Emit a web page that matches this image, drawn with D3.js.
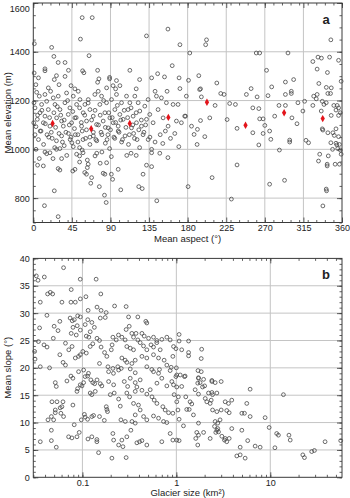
<!DOCTYPE html>
<html><head><meta charset="utf-8">
<script src="https://cdn.jsdelivr.net/npm/d3@7"></script>
<style>
html,body{margin:0;padding:0;background:#fff;}
svg{display:block;font-family:"Liberation Sans",Arial,sans-serif;}
</style></head>
<body>
<svg id="chart" width="350" height="498"></svg>
<script>
// ---------- DATA ----------
// Panel a: glacier mean aspect (deg) vs mean elevation (m)
const aspectElevation = [
 [1.2,1433],[21.4,1418],[57,1540],[68.7,1540],[55,1452],[65,1384],[24,1381],[132,1465],[157,1493],[1,1313],[6,1293],[13.6,1330],[13.6,1322],[29,1356],[37,1356],[41,1324],[27,1302],[24.5,1286],[37,1299],[44,1261],[57.5,1322],[59,1314],[75,1324],[76.5,1289],[75,1275],[89,1295],[89,1289],[97,1282],[101,1261],[112.6,1324],[120,1248],[124,1286],[138,1293],[142,1238],[145,1310],[153,1297],[162,1343],[17.5,1252],[30,1265],[3,1265],[48.5,1248],[85.5,1252],[93,1261],[96,1248],[156,1238],
 [171,1429],[202,1449],[201,1429],[182.5,1395],[260,1395],[264,1395],[297,1395],[347,1449],[170,1293],[171,1249],[181,1283],[193,1302],[195,1248],[214,1272],[254,1249],[272,1324],[278,1256],[294,1276],[303.6,1286],[326,1360],[332,1378],[336,1374],[345.5,1378],[356,1365],[331,1329],[343,1315],[333,1270],[341.7,1254],[347.5,1252],[359,1279],
 [0.8,1191],[3.9,1234],[2,1170],[7,1218],[9.7,1184],[7.8,1150],[4.7,1123],[0.5,1109],[3.1,1093],[13.6,1225],[15.6,1197],[17.5,1163],[13.6,1136],[11.7,1109],[19.4,1095],[20.2,1238],[23.3,1211],[25.3,1184],[29.1,1218],[31.1,1163],[27.2,1129],[33,1116],[35,1095],[36.9,1191],[38.8,1231],[40.8,1143],[42.7,1170],[44.7,1109],[46.6,1218],[48.5,1129],[50.5,1184],[52.4,1238],[54.4,1204],[56.3,1095],[58.2,1150],[60.2,1184],[62.1,1116],[64.1,1204],[66,1163],[69.9,1136],[71.8,1225],[73.8,1102],[75.7,1238],[77.6,1184],[79.6,1218],[81.5,1116],[83.5,1150],[85.4,1191],[87.3,1088],[89.3,1129],[91.2,1204],[93.2,1109],[95.1,1163],[97,1225],[99,1095],[100.9,1143],[102.9,1191],[104.8,1123],[108.7,1218],[110.6,1163],[112.6,1191],[114.5,1088],[116.4,1136],[118.4,1218],[120.3,1109],[122.3,1191],[124.2,1157],[126.1,1095],[130,1177],[132,1123],[133.9,1204],[135.8,1143],[139.7,1109],[143.6,1218],[145.5,1163],[149.4,1211],[151.4,1129],[155.2,1191],[157.2,1095],[163,1184],[166.9,1116],[168.8,1184],[172.7,1109],[176.6,1136],[178.5,1218],
 [5,1140],[8,1075],[10,1160],[14,1105],[16,1060],[19,1130],[22,1045],[24,1150],[26,1090],[28,1175],[30,1065],[32,1140],[34,1030],[36,1120],[38,1070],[40,1200],[42,1100],[44,1050],[46,1155],[48,1085],[50,1130],[52,1060],[54,1170],[56,1110],[58,1040],[60,1140],[62,1080],[64,1190],[66,1050],[68,1120],[70,1070],[72,1160],[74,1035],[76,1100],[78,1140],[80,1060],[82,1200],[84,1090],[86,1040],[88,1150],[90,1080],[92,1130],[94,1050],[96,1110],[98,1180],[100,1070],[102,1120],[104,1040],[106,1160],[108,1090],[110,1130],[112,1060],[114,1170],[116,1100],[118,1045],[120,1150],[123,1080],[126,1120],[128,1060],[131,1100],[134,1040],
 [2,1060],[6,1040],[9,1075],[12,1020],[18,1050],[21,1070],[27,1035],[33,1055],[36,1015],[41,1065],[43,1040],[49,1060],[52,1030],[57,1075],[61,1045],[66,1020],[70,1055],[73,1040],[79,1070],[84,1025],[87,1060],[95,1045],[99,1075],[103,1030],[107,1055],[111,1020],[117,1065],[121,1040],[129,1070],[136,1050],[142,1030],[148,1060],[154,1075],[160,1045],[165,1065],
 [3.1,1000],[7,962],[5,935],[11.7,932],[13.6,989],[15.6,982],[19.4,986],[25,1007],[27,1000],[31,1003],[33,962],[23,962],[29,921],[31,915],[39,975],[45,1027],[46.6,1011],[54,1007],[57,997],[50.5,980],[54,973],[46,911],[48.6,918],[54,948],[58,986],[63,956],[64,939],[63,925],[60,905],[62,898],[67,861],[68,884],[72,973],[74,984],[78,943],[81.5,902],[83.5,898],[80,989],[89,1003],[91,970],[85.5,945],[77,847],[83,812],[85,782],[91,898],[92.5,877],[99,918],[102,834],[109,975],[114,984],[120,975],[124,1007],[128,898],[132,935],[138,929],[123,847],[127,839],[138,1000],[138,986],[144,789],[147.5,984],[151,1024],[157,966],[24.5,830],[13,769],[29,724],
 [194,1245],[196,1215],[212,1180],[218.6,1229],[222.5,1225],[248.5,1225],[261,1215],[273.7,1220],[229,1188],[235.7,1184],[256,1170],[263,1167],[205.8,1129],[195,1118],[184.5,1095],[191.4,1082],[177.5,1136],[226,1122],[237.6,1086],[264,1125],[268,1125],[270,1098],[281.5,1136],[286.5,1180],[294,1180],[301.6,1129],[307.5,1105],[308.6,1191],[314.4,1157],[300.9,1229],[300.9,1238],[294,1225],[316.4,1197],[326,1180],[327,1218],[331,1225],[330,1207],[337,1197],[339,1184],[341.6,1191],[343.5,1229],[346.6,1229],[335.8,1157],[350.5,1180],[354.4,1180],[356,1170],[353,1161],[347.4,1139],[356,1139],[358,1150],[337,1084],[353,1084],[275.6,1075],
 [169.7,1011],[180.5,847],[187.5,1061],[191,1020],[200,1052],[208.5,884],[231,796],[237.6,936],[256,1068],[268,1065],[263,1018],[277,1041],[275.6,857],[287,997],[293,873],[299,1038],[299,1030],[318,1037],[321,1027],[332.6,952],[334,980],[337.7,1079],[343.5,1068],[347,1027],[344,973],[349,1000],[342.7,939],[342.7,932],[352,939],[354,1018],[355,1003],[358,997],[357,939],[351,1057],[356,1052],[341.6,837],[342,830],[337.7,768],[349.4,1068],[353,1025],[357,1020],[359,980]
];
// Panel a red markers: mean elevation per 45-degree aspect sector
const sectorAspect = [22.5, 67.5, 112.5, 157.5, 202.5, 247.5, 292.5, 337.5];
const sectorMeanElev = [1106, 1084, 1106, 1131, 1193, 1099, 1150, 1126];

// Panel b: glacier size (km2) vs mean slope (deg)
const sizeSlope = [
 [0.0323,36.8],[0.0337,36.0],[0.0393,36.6],[0.0356,32.0],[0.063,38.3],[0.0426,33.5],[0.0455,33.8],[0.0482,33.5],[0.0419,29.6],[0.0605,32.0],[0.0755,32.0],[0.084,32.0],[0.076,34.3],[0.0948,36.2],[0.140,36.2],[0.157,33.5],[0.109,33.0],[0.095,32.6],[0.115,30.5],[0.143,31.1],[0.158,30.5],[0.179,30.1],[0.22,31.3],[0.292,31.2],[0.31,29.3],[0.389,29.3],[0.473,28.5],[0.485,28.2],[0.155,29.1],[0.175,29.2],[0.089,29.5],[0.095,29.3],[0.082,28.8],[0.074,29.1],[0.078,28.6],[0.050,27.6],[0.0575,28.5],[0.055,26.8],[0.035,27.3],[0.034,24.8],[0.039,24.2],[0.042,23.8],[0.049,25.4],[0.031,23.0],[0.0313,21.6],[0.0356,20.2],[0.0447,20.0],[0.0575,22.4],[0.0622,21.0],[0.066,20.5],[0.066,24.5],[0.0716,23.3],[0.0776,23.9],[0.076,26.3],[0.086,26.0],[0.095,26.9],[0.0794,27.4],[0.088,27.7],[0.107,27.9],[0.114,28.8],[0.110,25.8],[0.117,25.6],[0.121,26.6],[0.126,28.3],[0.134,27.4],[0.143,25.4],[0.152,25.0],[0.158,23.8],[0.121,23.9],[0.129,24.4],[0.110,22.7],[0.095,22.4],[0.101,23.0],[0.084,21.8],[0.091,22.1],[0.172,22.8],[0.182,22.1],[0.152,20.8],[0.203,23.3],[0.211,25.6],[0.229,25.1],[0.207,24.2],[0.242,26.0],[0.263,25.6],[0.285,25.1],[0.292,27.0],[0.315,27.6],[0.336,26.3],[0.35,25.6],[0.372,26.3],[0.389,25.1],[0.43,26.3],[0.455,25.8],[0.506,25.4],[0.571,25.6],[0.619,25.0],[0.70,25.2],[0.792,25.6],[0.859,25.1],[0.537,24.2],[0.571,23.8],[0.619,24.6],[0.673,23.3],[0.412,24.6],[0.447,24.0],[0.485,23.3],[0.297,23.9],[0.323,23.6],[0.35,23.3],[0.263,21.8],[0.285,21.4],[0.297,21.0],[0.336,20.8],[0.365,21.4],[0.43,22.1],[0.485,21.8],[0.571,22.4],[0.646,21.8],[0.741,21.4],[0.238,20.2],[0.259,19.9],[0.187,20.2],[0.211,19.9],[0.485,20.2],[0.548,19.7],[0.661,19.7],[0.792,20.5],[0.881,20.1],[0.933,23.9],[0.918,22.1],
 [1.07,26.1],[1.07,24.9],[1.35,24.9],[0.99,23.5],[1.14,23.3],[1.35,22.8],[1.35,22.2],[1.86,23.4],[1.84,21.7],[1.0,20.0],[1.70,19.5],[1.01,18.7],[1.22,18.4],[1.72,18.2],[1.95,17.9],[2.39,17.7],
 [0.091,19.3],[0.103,19.6],[0.116,19.0],[0.19,19.3],[0.214,19.0],[0.243,19.6],[0.323,19.8],[0.365,19.1],[0.571,19.3],[0.646,19.0],[0.859,19.5],
 [0.0356,6.5],[0.0467,8.6],[0.0467,6.7],[0.0527,5.5],[0.0467,11.1],[0.0494,10.5],[0.043,10.5],[0.0474,13.8],[0.0536,13.8],[0.0621,13.8],[0.0514,12.3],[0.0514,11.8],[0.059,11.7],[0.063,11.1],[0.058,12.7],[0.0514,17.3],[0.0527,16.6],[0.0605,12.9],[0.0713,7.4],[0.0773,7.2],[0.0818,9.6],[0.0792,13.2],[0.0684,17.6],[0.0755,18.5],[0.0792,18.1],[0.0875,7.4],[0.0925,8.2],[0.0889,16.2],[0.0875,15.7],[0.0948,16.9],[0.103,17.3],[0.0989,16.7],[0.107,18.4],[0.1135,18.5],[0.0973,10.5],[0.107,11.0],[0.105,11.5],[0.1135,10.6],[0.121,15.4],[0.126,15.1],[0.137,15.7],[0.123,17.8],[0.129,17.3],[0.135,17.1],[0.143,17.8],[0.126,11.1],[0.1315,11.3],[0.1145,7.0],[0.126,7.4],[0.1425,6.9],[0.1425,6.5],[0.1486,4.5],[0.155,17.1],[0.161,16.7],[0.152,11.1],[0.171,10.4],[0.206,3.5],[0.1795,12.9],[0.182,12.4],[0.185,12.0],[0.19,17.5],[0.215,16.9],[0.198,15.1],[0.218,15.4],[0.243,14.3],[0.253,13.0],[0.257,10.5],[0.286,10.2],[0.211,8.0],[0.215,6.8],[0.243,5.9],[0.263,6.8],[0.27,5.6],[0.297,7.4],[0.328,8.6],[0.292,3.6],[0.279,17.5],[0.303,16.6],[0.323,18.1],[0.297,15.4],[0.318,14.7],[0.365,17.3],[0.38,16.5],[0.412,17.8],[0.365,15.7],[0.35,13.5],[0.395,13.2],[0.412,12.3],[0.365,11.4],[0.448,11.1],[0.485,10.5],[0.337,10.2],[0.365,9.9],[0.406,6.5],[0.43,6.7],[0.38,6.3],[0.485,5.9],[0.43,15.9],[0.485,15.2],[0.55,14.7],[0.527,16.0],[0.581,14.1],[0.621,13.5],[0.718,12.9],[0.76,12.3],[0.621,17.2],[0.70,18.1],[0.792,16.7],[0.895,17.5],[0.571,11.2],[0.646,10.8],[0.73,10.2],[0.792,10.0],[0.70,6.5],[0.859,8.0],[0.918,6.8],[0.826,11.8],[0.918,11.7],[0.933,16.9],[0.948,15.1],
 [0.989,18.4],[1.10,18.7],[1.24,18.5],[1.01,16.5],[1.14,16.6],[1.05,14.7],[1.01,13.8],[1.04,12.3],[1.07,10.6],[1.19,9.4],[1.01,6.8],[1.07,6.7],[1.26,14.7],[1.40,13.8],[1.46,13.4],[1.29,12.4],[1.37,12.4],[1.52,11.4],[1.585,16.0],[1.72,15.2],[1.72,18.1],[1.79,17.3],[1.90,16.5],[2.0,16.7],[1.69,17.2],[1.84,19.3],[1.72,9.9],[1.65,8.2],[1.72,7.7],[1.61,7.1],[1.69,5.9],[1.95,8.2],[2.29,7.1],[2.03,14.4],[2.11,13.8],[2.29,13.5],[2.35,14.1],[2.20,15.4],[2.39,15.5],[2.43,15.1],[2.70,15.4],[2.39,17.5],[2.59,17.3],[3.0,17.5],[2.43,12.3],[2.70,12.0],[3.0,12.3],[2.59,10.2],[2.76,9.9],[2.92,10.5],[2.55,9.3],[2.70,8.6],[2.81,8.3],[2.76,8.9],[2.63,8.2],[3.05,7.5],[3.31,7.1],[3.25,6.8],[3.44,6.5],[3.65,7.1],[3.31,13.8],[3.59,13.5],[3.89,14.1],[3.44,12.2],[3.65,11.8],[3.89,8.9],[4.40,3.9],[4.78,4.1],[5.40,3.5],[4.78,5.5],[4.98,8.6],[4.98,11.7],[5.31,11.7],[5.62,13.5],[5.75,6.7],[6.10,16.1],[6.10,11.1],[6.90,5.7],[7.80,5.5],[8.81,10.9],[9.73,9.1],[11.2,5.4],[11.7,8.0],[12.2,7.7],[13.8,15.1],[15.8,7.7],[16.3,6.8],[22.2,4.1],[23.1,3.6],[27.6,4.7],[29.5,4.9],[38.3,6.5],[56.2,6.7]
];

// Axes ticks
const aspectTicks = [0, 45, 90, 135, 180, 225, 270, 315, 360];
const elevTicks = [800, 1000, 1200, 1400, 1600];
const slopeTicks = [0, 5, 10, 15, 20, 25, 30, 35, 40];
const sizeTicks = [0.1, 1, 10];
const sizeTickLabels = ["0.1", "1", "10"];

// ---------- DRAW ----------
const svg = d3.select("#chart");
const L = 33.3, R = 342;
const inkCol = "#3a3a3a", gridCol = "#c4c4c4", ptCol = "#474747";

function drawPanel(o) {
  const g = svg.append("g");
  const x = o.x, y = o.y;
  const [top, bottom] = [y.range()[1], y.range()[0]];
  g.append("g").selectAll("line").data(o.xGrid).join("line")
    .attr("x1", d => x(d)).attr("x2", d => x(d)).attr("y1", top).attr("y2", bottom)
    .attr("stroke", gridCol).attr("stroke-width", 1);
  g.append("g").selectAll("line").data(o.yGrid).join("line")
    .attr("y1", d => y(d)).attr("y2", d => y(d)).attr("x1", L).attr("x2", R)
    .attr("stroke", gridCol).attr("stroke-width", 1);
  const mk = (axis, tr) => {
    const a = g.append("g").attr("transform", tr).call(axis);
    a.select(".domain").remove();
    a.selectAll("line").attr("stroke", inkCol).attr("stroke-width", 0.8);
    a.selectAll("text").attr("fill", "#222").attr("font-size", 9).attr("font-family", "Liberation Sans, Arial, sans-serif");
    return a;
  };
  mk(d3.axisBottom(x).tickValues(o.xMinor).tickSize(-2.5).tickFormat(""), `translate(0,${bottom})`);
  mk(d3.axisTop(x).tickValues(o.xMinor).tickSize(-2.5).tickFormat(""), `translate(0,${top})`);
  mk(d3.axisLeft(y).tickValues(o.yMinor).tickSize(-2.5).tickFormat(""), `translate(${L},0)`);
  mk(d3.axisRight(y).tickValues(o.yMinor).tickSize(-2.5).tickFormat(""), `translate(${R},0)`);
  mk(d3.axisBottom(x).tickValues(o.xMajor).tickSize(-5).tickPadding(2.2).tickFormat(o.xFmt), `translate(0,${bottom})`);
  mk(d3.axisTop(x).tickValues(o.xMajor).tickSize(-5).tickFormat(""), `translate(0,${top})`);
  const yl = mk(d3.axisLeft(y).tickValues(o.yMajor).tickSize(-5).tickPadding(3.5).tickFormat(o.yFmt), `translate(${L},0)`);
  if (o.nudgeTop) yl.selectAll("text").filter(d => d === o.nudgeTop).attr("dy", "0.95em");
  mk(d3.axisRight(y).tickValues(o.yMajor).tickSize(-5).tickFormat(""), `translate(${R},0)`);
  g.append("rect").attr("x", L).attr("y", top).attr("width", R - L).attr("height", bottom - top)
    .attr("fill", "none").attr("stroke", inkCol).attr("stroke-width", 1);
  g.append("g").selectAll("circle").data(o.data).join("circle")
    .attr("cx", d => x(d[0])).attr("cy", d => y(d[1])).attr("r", 1.9)
    .attr("fill", "none").attr("stroke", ptCol).attr("stroke-width", 0.8);
  g.append("text").attr("x", (L + R) / 2).attr("y", bottom + o.titleGap).attr("text-anchor", "middle")
    .attr("font-size", 9.5).attr("fill", "#222").text(o.xTitle);
  g.append("text").attr("transform", `translate(10.5,${(top + bottom) / 2}) rotate(-90)`)
    .attr("text-anchor", "middle").attr("font-size", 9.5).attr("fill", "#222").text(o.yTitle);
  g.append("text").attr("x", 326).attr("y", top + 21).attr("text-anchor", "middle")
    .attr("font-size", 13).attr("font-weight", 700).attr("fill", "#222").text(o.letter);
  return g;
}

// Panel a
const xA = d3.scaleLinear().domain([0, 360]).range([L, R]);
const yA = d3.scaleLinear().domain([700, 1600]).range([222.5, 3]);
const gA = drawPanel({
  x: xA, y: yA, data: aspectElevation,
  xGrid: aspectTicks.slice(1, -1), yGrid: elevTicks.slice(0, -1),
  xMajor: aspectTicks, xMinor: d3.range(0, 361, 10),
  yMajor: elevTicks, yMinor: d3.range(700, 1601, 50),
  xFmt: d => d, yFmt: d => d, nudgeTop: 1600, titleGap: 19.5,
  xTitle: "Mean aspect (°)", yTitle: "Mean elevation (m)", letter: "a"
});
gA.append("g").selectAll("path").data(sectorAspect).join("path")
  .attr("transform", (d, i) => `translate(${xA(d)},${yA(sectorMeanElev[i])})`)
  .attr("d", d3.symbol(d3.symbolDiamond, 16))
  .attr("fill", "#e3141b");

// Panel b
const xB = d3.scaleLog().domain([0.03, 58]).range([L, R]);
const yB = d3.scaleLinear().domain([0, 40]).range([477.3, 258.4]);
const logMinor = [];
[0.01, 0.1, 1, 10].forEach(b => d3.range(1, 10).forEach(k => { const v = +(b * k).toPrecision(2); if (v >= 0.03 && v <= 58) logMinor.push(v); }));
drawPanel({
  x: xB, y: yB, data: sizeSlope,
  xGrid: sizeTicks, yGrid: slopeTicks.slice(1, -1),
  xMajor: sizeTicks, xMinor: logMinor,
  yMajor: slopeTicks, yMinor: d3.range(0, 41, 1),
  xFmt: (d, i) => sizeTickLabels[i], yFmt: d => d, titleGap: 18.5,
  xTitle: "Glacier size (km²)", yTitle: "Mean slope (°)", letter: "b"
});
</script>
</body></html>
